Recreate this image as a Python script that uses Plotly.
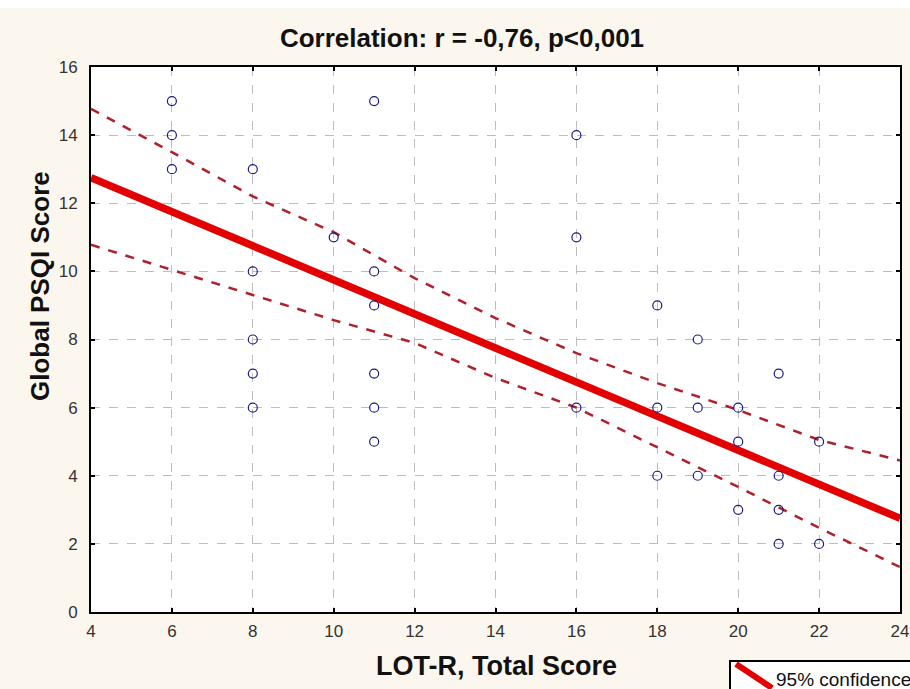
import plotly.graph_objects as go

# ---- data ----
lot_r = [6, 6, 6, 8, 8, 8, 8, 8, 10, 11, 11, 11, 11, 11, 11,
         16, 16, 16, 18, 18, 18, 19, 19, 19, 20, 20, 20, 21, 21, 21, 21, 22, 22]
psqi = [15, 14, 13, 13, 10, 8, 7, 6, 11, 15, 10, 9, 7, 6, 5,
        14, 11, 6, 9, 6, 4, 8, 6, 4, 6, 5, 3, 7, 4, 3, 2, 5, 2]

fit_x = [4, 24]
fit_y = [12.75, 2.75]

band_x = [4, 6, 8, 10, 12, 14, 16, 18, 20, 22, 24]
band_upper = [14.77, 13.5, 12.2, 11.15, 9.8, 8.63, 7.6, 6.72, 5.93, 5.05, 4.45]
band_lower = [10.78, 10.04, 9.3, 8.57, 7.9, 6.87, 6.0, 4.84, 3.67, 2.47, 1.32]

x_ticks = [4, 6, 8, 10, 12, 14, 16, 18, 20, 22, 24]
y_ticks = [0, 2, 4, 6, 8, 10, 12, 14, 16]

title_text = "Correlation: r = -0,76, p<0,001"
x_title = "LOT-R, Total Score"
y_title = "Global PSQI Score"
legend_text = "95% confidence"

# ---- figure ----
W, H = 910, 689
ML, MR, MT, MB = 91, 10, 67, 77
PW, PH = W - ML - MR, H - MT - MB


def px(xp):
    return (xp - ML) / PW


def py(yp):
    return (H - MB - yp) / PH


fig = go.Figure()
band_color = "#B0202A"
fig.add_trace(go.Scatter(x=band_x, y=band_upper, mode="lines",
                         line=dict(color=band_color, width=2.5, dash="dash"),
                         showlegend=False, hoverinfo="skip"))
fig.add_trace(go.Scatter(x=band_x, y=band_lower, mode="lines",
                         line=dict(color=band_color, width=2.5, dash="dash"),
                         showlegend=False, hoverinfo="skip"))
fig.add_trace(go.Scatter(x=fit_x, y=fit_y, mode="lines",
                         line=dict(color="#E30000", width=7.5),
                         showlegend=False))
fig.add_trace(go.Scatter(x=lot_r, y=psqi, mode="markers",
                         marker=dict(symbol="circle-open", size=9,
                                     color="#1A1A80", line=dict(width=1.2)),
                         showlegend=False, cliponaxis=False))

FONT = "Liberation Sans, Arial, sans-serif"
tick_font = dict(family=FONT, size=17, color="#333333")
axis_common = dict(showline=True, linecolor="black", linewidth=2, mirror="ticks",
                   ticks="inside", ticklen=4, tickwidth=1.5, tickcolor="black",
                   showgrid=True, gridcolor="#BDBDBD", griddash="dash", gridwidth=1,
                   zeroline=False, tickfont=tick_font, automargin=False)

fig.update_xaxes(range=[4, 24], tickvals=x_ticks, ticklabelstandoff=3, **axis_common)
fig.update_yaxes(range=[0, 16], tickvals=y_ticks, ticklabelstandoff=8, **axis_common)

# white strip at very top, legend box fragment
shapes = [
    dict(type="rect", xref="paper", yref="paper", x0=px(-5), x1=px(W + 5),
         y0=py(8), y1=py(-5), fillcolor="white", line=dict(width=0), layer="below"),
    dict(type="rect", xref="paper", yref="paper", x0=px(730), x1=px(W + 10),
         y0=py(H + 10), y1=py(661), fillcolor="white",
         line=dict(color="black", width=2)),
    dict(type="line", xref="paper", yref="paper", x0=px(736), y0=py(664),
         x1=px(772), y1=py(688), line=dict(color="#E30000", width=6)),
]
fig.update_layout(shapes=shapes)

fig.add_trace(go.Scatter(x=[px(756)], y=[py(676)], xaxis="x2", yaxis="y2",
                         mode="markers",
                         marker=dict(symbol="circle", size=8, color="white",
                                     line=dict(color="#1A1A80", width=1.5)),
                         showlegend=False, cliponaxis=False, hoverinfo="skip"))
fig.update_layout(
    xaxis2=dict(overlaying="x", range=[0, 1], visible=False, fixedrange=True),
    yaxis2=dict(overlaying="y", range=[0, 1], visible=False, fixedrange=True),
)

fig.add_annotation(xref="paper", yref="paper", x=px(774), y=py(679),
                   xanchor="left", yanchor="middle", text=legend_text,
                   showarrow=False,
                   font=dict(family=FONT, size=19, color="#111111"))

# axis titles
fig.add_annotation(xref="paper", yref="paper", x=px(496), y=py(666),
                   xanchor="center", yanchor="middle", text=x_title,
                   showarrow=False,
                   font=dict(family=FONT, size=27, color="#111111", weight="bold"))
fig.add_annotation(xref="paper", yref="paper", x=px(40), y=py(286),
                   xanchor="center", yanchor="middle", text=y_title,
                   textangle=-90, showarrow=False,
                   font=dict(family=FONT, size=26, color="#111111", weight="bold"))

fig.update_layout(
    width=W, height=H,
    margin=dict(l=ML, r=MR, t=MT, b=MB),
    paper_bgcolor="#FCF7EE",
    plot_bgcolor="white",
    title=dict(text=title_text, x=462 / W, xanchor="center", y=1 - 38 / H,
               yanchor="middle", xref="container",
               font=dict(family=FONT, size=26, color="#111111", weight="bold")),
    showlegend=False,
)

fig.write_html("out.html")
